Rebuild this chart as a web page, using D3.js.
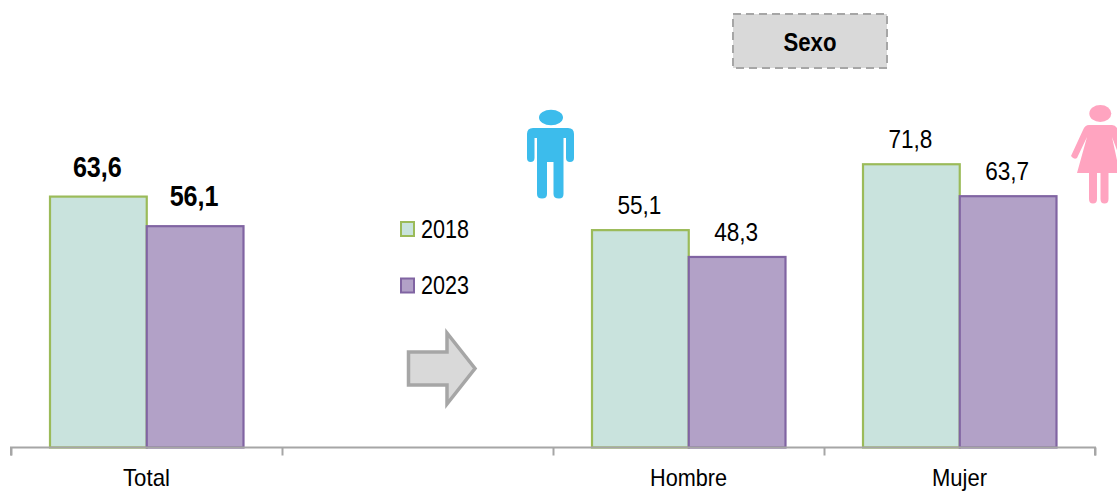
<!DOCTYPE html>
<html><head><meta charset="utf-8">
<script src="https://cdn.jsdelivr.net/npm/d3@7/dist/d3.min.js"></script>
<style>html,body{margin:0;padding:0;background:#fff;overflow:hidden}svg{display:block}text{font-family:"Liberation Sans",Arial,sans-serif;fill:#000}</style>
</head><body><svg id="c" width="1117" height="491"></svg>
<script>
const categories = ["Total", " ", "Hombre", "Mujer"];
const years = ["2018", "2023"];
const values2018 = [63.6, null, 55.1, 71.8];
const values2023 = [56.1, null, 48.3, 63.7];
const labels2018 = ["63,6", "", "55,1", "71,8"];
const labels2023 = ["56,1", "", "48,3", "63,7"];
const boldCategory = "Total";
const badgeLabel = "Sexo";

const fills = {"2018": "#c9e3dd", "2023": "#b2a1c7"};
const strokes = {"2018": "#9bbb59", "2023": "#8064a2"};
const svg = d3.select("#c");
const baseY = 447.5;
const x = d3.scaleBand().domain(categories).range([11, 1095]);
const xi = d3.scaleBand().domain(years).range([39, 232.5]);
const y = d3.scaleLinear().domain([0, 100]).range([baseY, baseY - 394.5]);

function condensed(sel, width) { return sel.attr("textLength", width).attr("lengthAdjust", "spacingAndGlyphs"); }

// bars
years.forEach((yr, k) => {
  const vals = k === 0 ? values2018 : values2023;
  const labs = k === 0 ? labels2018 : labels2023;
  const rows = categories.map((c, i) => ({c, v: vals[i], l: labs[i]})).filter(d => d.v != null);
  svg.append("g").selectAll("rect").data(rows).join("rect")
    .attr("x", d => x(d.c) + xi(yr))
    .attr("y", d => y(d.v))
    .attr("width", xi.bandwidth())
    .attr("height", d => baseY - y(d.v))
    .attr("fill", fills[yr]).attr("stroke", strokes[yr]).attr("stroke-width", 2.2);
  svg.append("g").selectAll("text").data(rows).join("text")
    .attr("x", d => x(d.c) + xi(yr) + xi.bandwidth() / 2 - 1)
    .attr("y", d => y(d.v) - (d.c === boldCategory ? 20 : 16))
    .attr("text-anchor", "middle")
    .attr("font-size", d => d.c === boldCategory ? 29 : 26)
    .attr("font-weight", d => d.c === boldCategory ? "bold" : "normal")
    .attr("textLength", d => d.c === boldCategory ? 49 : 44)
    .attr("lengthAdjust", "spacingAndGlyphs")
    .text(d => d.l);
});

// axis: ticks on the band edges, labels at band centres
const edges = d3.scaleLinear().domain([0, categories.length]).range([11, 1095]);
const axisG = svg.append("g").attr("transform", `translate(0,${baseY})`)
  .call(d3.axisBottom(edges).ticks(categories.length).tickSize(8).tickFormat(""));
axisG.selectAll("path,line").attr("stroke", "#a6a6a6").attr("stroke-width", 2);
axisG.select(".domain").attr("d", "M11,8V0H1095V8");
const catWidths = {"Total": 47, "Hombre": 77, "Mujer": 55};
svg.append("g").selectAll("text").data(categories.filter(c => c.trim())).join("text")
  .attr("x", c => x(c) + x.bandwidth() / 2)
  .attr("y", 485.5)
  .attr("text-anchor", "middle").attr("font-size", 24)
  .attr("textLength", c => catWidths[c]).attr("lengthAdjust", "spacingAndGlyphs")
  .text(c => c);

// legend
const legendY = {"2018": 229, "2023": 285.5};
years.forEach(yr => {
  svg.append("rect").attr("x", 401).attr("y", legendY[yr] - 7).attr("width", 13).attr("height", 14)
    .attr("fill", fills[yr]).attr("stroke", strokes[yr]).attr("stroke-width", 2);
  condensed(svg.append("text").attr("x", 421).attr("y", legendY[yr] + 8.5).attr("font-size", 26).text(yr), 48);
});

// badge
svg.append("rect").attr("x", 733).attr("y", 14).attr("width", 154).attr("height", 54)
  .attr("fill", "#d9d9d9").attr("stroke", "#a6a6a6").attr("stroke-width", 2).attr("stroke-dasharray", "8 5");
condensed(svg.append("text").attr("x", 810).attr("y", 51).attr("text-anchor", "middle")
  .attr("font-size", 26).attr("font-weight", "bold").text(badgeLabel), 53);

// arrow
svg.append("path").attr("d", "M408.5,352H447V333L475,368.500L447,404V385H408.5Z")
  .attr("fill", "#d9d9d9").attr("stroke", "#a6a6a6").attr("stroke-width", 3.5);

// man icon
svg.append("ellipse").attr("cx", 551).attr("cy", 117.5).attr("rx", 12).attr("ry", 7.7).attr("fill", "#3cbcec");
svg.append("path").attr("fill", "#3cbcec").attr("d",
  "M533,128H568Q574,128 574,134V158Q574,162 570,162Q566,162 566,158V138H563.500V194Q563.500,198.500 559,198.500Q553.500,198.500 553.500,194V162H547V194Q547,198.500 542,198.500Q537,198.500 537,194V138H534.500V158Q534.500,162 530.500,162Q527,162 527,158V134Q527,128 533,128Z");

// woman icon
svg.append("ellipse").attr("cx", 1100.3).attr("cy", 113.5).attr("rx", 11).attr("ry", 8.500).attr("fill", "#ffa4c0");
svg.append("path").attr("fill", "#ffa4c0").attr("d",
  "M1089,125H1112Q1116,125 1118,130V153L1112,137L1118,165V173H1108.500V199Q1108.500,203.500 1104.500,203.500Q1100.500,203.500 1100.500,199V173H1097V199Q1097,203.500 1093,203.500Q1089,203.500 1089,199V173H1077L1087,137L1077,158Q1074,160 1071,156L1083,130Q1085,125 1089,125Z");
</script></body></html>
